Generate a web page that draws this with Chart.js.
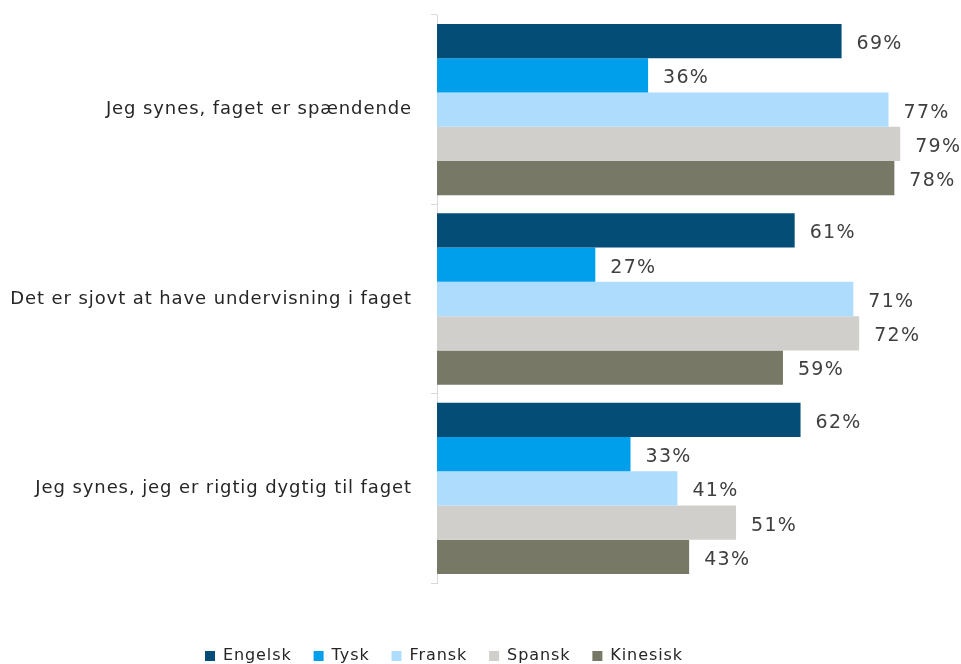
<!DOCTYPE html>
<html>
<head>
<meta charset="utf-8">
<script src="https://cdn.jsdelivr.net/npm/chart.js@4"></script>
<style>
html,body{margin:0;padding:0;background:#fff;}
#wrap{width:961px;height:664px;position:relative;}
</style>
</head>
<body>
<div id="wrap"><canvas id="c"></canvas></div>
<script>
const categories = ["Jeg synes, faget er spændende", "Det er sjovt at have undervisning i faget", "Jeg synes, jeg er rigtig dygtig til faget"];
const seriesNames = ["Engelsk", "Tysk", "Fransk", "Spansk", "Kinesisk"];
const engelsk = [69, 61, 62];
const tysk = [36, 27, 33];
const fransk = [77, 71, 41];
const spansk = [79, 72, 51];
const kinesisk = [78, 59, 43];
const colors = ["#034d76", "#009fec", "#aedcfd", "#d0cfcb", "#787866"];

const values = [engelsk, tysk, fransk, spansk, kinesisk];
const FONT = "DejaVu Sans";

const spacingPlugin = {
  id: 'spacing',
  beforeUpdate(chart) { chart.ctx.letterSpacing = '0.9px'; },
  beforeLayout(chart) { chart.ctx.letterSpacing = '0.9px'; },
  afterLayout(chart) {
    const l = chart.legend;
    if (l) { l.left += 183; l.right += 183; l.top += 10; l.bottom += 10; }
  },
  beforeDraw(chart) { chart.ctx.letterSpacing = '0.9px'; }
};

const labelPlugin = {
  id: 'barLabels',
  afterDatasetsDraw(chart) {
    const ctx = chart.ctx;
    ctx.save();
    ctx.font = '19px ' + FONT;
    ctx.letterSpacing = '1.3px';
    ctx.fillStyle = '#404040';
    ctx.textAlign = 'left';
    ctx.textBaseline = 'middle';
    chart.data.datasets.forEach((ds, i) => {
      const meta = chart.getDatasetMeta(i);
      meta.data.forEach((bar, j) => {
        ctx.fillText(ds.data[j] + '%', bar.x + 15, bar.y + 3);
      });
    });
    ctx.restore();
  }
};

new Chart(document.getElementById('c'), {
  type: 'bar',
  data: {
    labels: categories,
    datasets: seriesNames.map((n, i) => ({
      label: n,
      data: values[i],
      backgroundColor: colors[i],
      borderWidth: 0,
      categoryPercentage: 0.905,
      barPercentage: 1.0
    }))
  },
  options: {
    indexAxis: 'y',
    responsive: true,
    maintainAspectRatio: false,
    animation: false,
    layout: { padding: { top: 15, right: 8, left: 0, bottom: 0 } },
    scales: {
      x: {
        min: 0, max: 88,
        display: true,
        grid: { display: false },
        border: { display: false },
        ticks: { display: false },
        afterFit(scale) { scale.height = 33; }
      },
      y: {
        grid: { drawOnChartArea: false, drawTicks: true, tickLength: 6, color: '#d9d9d9', offset: true },
        border: { display: true, color: '#d9d9d9', width: 1 },
        ticks: { color: '#262626', font: { family: FONT, size: 18 }, padding: 19 },
        afterFit(scale) { scale.width = 437; scale.paddingTop = 0; scale.paddingBottom = 0; }
      }
    },
    plugins: {
      legend: {
        position: 'bottom',
        align: 'start',
        labels: {
          color: '#262626',
          font: { family: FONT, size: 16 },
          boxWidth: 10, boxHeight: 10,
          padding: 22
        }
      },
      tooltip: { enabled: false }
    }
  },
  plugins: [spacingPlugin, labelPlugin]
});
</script>
</body>
</html>
